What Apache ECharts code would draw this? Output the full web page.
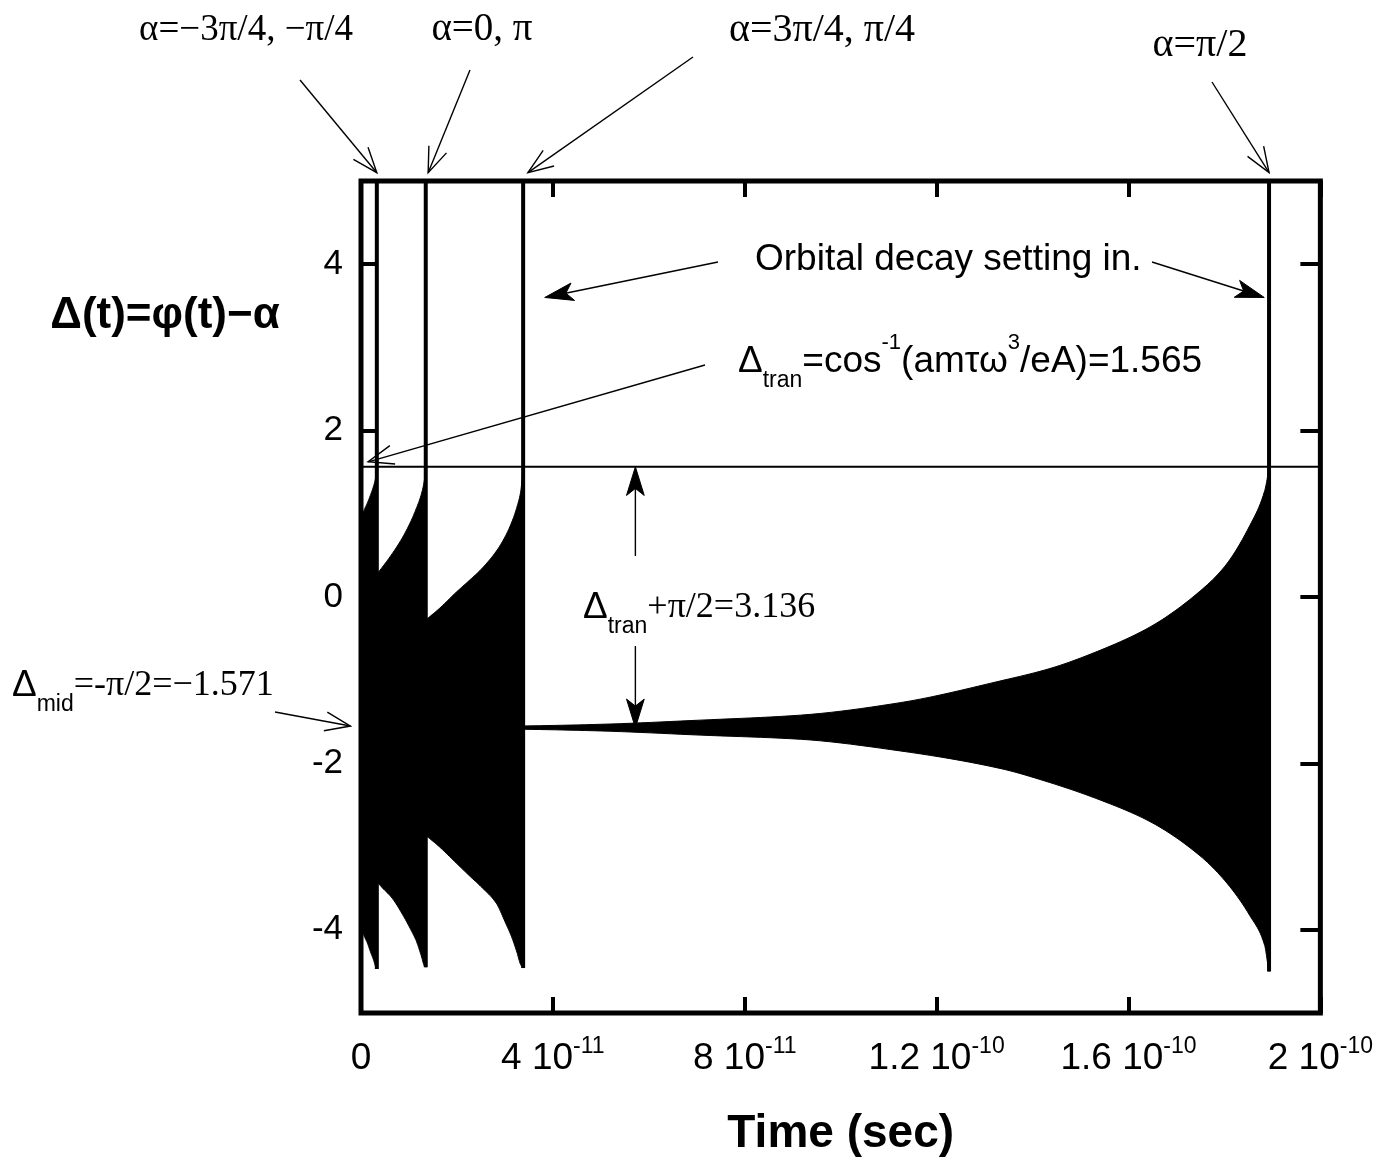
<!DOCTYPE html>
<html>
<head>
<meta charset="utf-8">
<script src="https://cdn.jsdelivr.net/npm/echarts@6/dist/echarts.min.js"></script>
<style>
  html, body { margin: 0; padding: 0; background: #fff; }
  #chart { width: 1376px; height: 1162px; }
</style>
</head>
<body>
<div id="chart"></div>
<script>
// ---- data -------------------------------------------------------------
// time values are given in units of 1e-11 s; Δ in radians
const T_UNIT = 1e-11;

// α = −3π/4, −π/4
const tA  = [0, 0.07, 0.14, 0.20, 0.26, 0.31, 0.33];
const upA = [0.95, 1.05, 1.14, 1.23, 1.33, 1.45, 1.565];
const loA = [-3.98, -4.08, -4.17, -4.27, -4.36, -4.45, -4.47];

// α = 0, π
const tB  = [0, 0.20, 0.42, 0.65, 0.85, 1.04, 1.15, 1.25, 1.32, 1.35];
const upB = [0.02, 0.18, 0.34, 0.52, 0.70, 0.91, 1.06, 1.22, 1.40, 1.565];
const loB = [-3.16, -3.32, -3.48, -3.62, -3.80, -4.00, -4.13, -4.30, -4.43, -4.45];

// α = 3π/4, π/4
const tC  = [0, 0.70, 1.38, 1.63, 1.99, 2.26, 2.50, 2.82, 3.00, 3.15, 3.25, 3.33, 3.38];
const upC = [-0.78, -0.55, -0.26, -0.14, 0.06, 0.20, 0.33, 0.55, 0.72, 0.91, 1.08, 1.27, 1.565];
const loC = [-2.36, -2.60, -2.88, -3.00, -3.20, -3.35, -3.48, -3.68, -3.90, -4.10, -4.27, -4.42, -4.46];

// α = π/2
const tD  = [0, 3.40, 5.00, 7.07, 9.16, 11.24, 13.32, 14.36, 15.41, 16.45, 17.49, 18.01, 18.53, 18.84, 18.90, 18.93];
const upD = [-1.571, -1.55, -1.53, -1.48, -1.42, -1.27, -1.01, -0.86, -0.64, -0.36, 0.07, 0.37, 0.86, 1.28, 1.45, 1.565];
const loD = [-1.571, -1.59, -1.61, -1.66, -1.71, -1.85, -2.06, -2.23, -2.44, -2.70, -3.11, -3.41, -3.83, -4.19, -4.40, -4.50];

const dTran = 1.565;   // Δ_tran
const dMid  = -1.571;  // Δ_mid

const xTickValues = [0, 4, 8, 12, 16, 20];
const xTickMant   = ['0', '4', '8', '1.2', '1.6', '2'];
const xTickExp    = ['', '-11', '-11', '-10', '-10', '-10'];
const yTickValues = [-4, -2, 0, 2, 4];
const yTickLabels = ['-4', '-2', '0', '2', '4'];

// ---- chart ------------------------------------------------------------
const SANS = 'Liberation Sans, Arial, Helvetica, sans-serif';
const SERIF = 'Liberation Serif, Times New Roman, serif';

const curves = [
  { t: tA, up: upA, lo: loA },
  { t: tB, up: upB, lo: loB },
  { t: tC, up: upC, lo: loC },
  { t: tD, up: upD, lo: loD }
];

// monotone cubic through pixel points (x increasing), sampled for drawing
function smoothPixels(p) {
  const n = p.length;
  if (n < 3) return p.slice();
  const d = [], m = [];
  for (let i = 0; i < n - 1; i++) d.push((p[i + 1][1] - p[i][1]) / (p[i + 1][0] - p[i][0]));
  m.push(d[0]);
  for (let i = 1; i < n - 1; i++) {
    if (d[i - 1] * d[i] <= 0) m.push(0);
    else {
      const h0 = p[i][0] - p[i - 1][0], h1 = p[i + 1][0] - p[i][0];
      const w1 = 2 * h1 + h0, w2 = h1 + 2 * h0;
      m.push((w1 + w2) / (w1 / d[i - 1] + w2 / d[i]));
    }
  }
  m.push(d[n - 2]);
  const out = [p[0]];
  const STEPS = 10;
  for (let i = 0; i < n - 1; i++) {
    const x0 = p[i][0], y0 = p[i][1], x1 = p[i + 1][0], y1 = p[i + 1][1];
    const h = x1 - x0;
    for (let s = 1; s <= STEPS; s++) {
      const u = s / STEPS;
      const h00 = 2 * u * u * u - 3 * u * u + 1, h10 = u * u * u - 2 * u * u + u;
      const h01 = -2 * u * u * u + 3 * u * u, h11 = u * u * u - u * u;
      out.push([x0 + h * u, h00 * y0 + h10 * h * m[i] + h01 * y1 + h11 * h * m[i + 1]]);
    }
  }
  return out;
}

function bandSeries(c) {
  const pts = c.t.map((t, i) => [t * T_UNIT, c.up[i], c.lo[i]]);
  return {
    type: 'custom',
    silent: true,
    clip: true,
    data: pts,
    encode: { x: 0, y: [1, 2] },
    renderItem: function (params, api) {
      if (params.dataIndex !== 0) return null;
      const upper = smoothPixels(pts.map(q => api.coord([q[0], q[1]])));
      const lower = smoothPixels(pts.map(q => api.coord([q[0], q[2]])));
      const poly = upper.concat(lower.reverse());
      return {
        type: 'polygon',
        shape: { points: poly },
        style: { fill: '#000', stroke: '#000', lineWidth: 1 }
      };
    }
  };
}

function escapeLine(c) {
  const n = c.t.length - 1;
  const t = c.t[n] * T_UNIT;
  return {
    type: 'line',
    silent: true,
    symbol: 'none',
    data: [[t, c.lo[n]], [t, 5]],
    lineStyle: { color: '#000', width: 4 }
  };
}

const series = [];
curves.forEach(c => series.push(bandSeries(c)));
curves.forEach(c => series.push(escapeLine(c)));
series.push({
  type: 'line',
  silent: true,
  symbol: 'none',
  data: [[0, dTran], [20 * T_UNIT, dTran]],
  lineStyle: { color: '#000', width: 2 }
});

const xCustom = xTickValues.map(v => v * T_UNIT);
function xLabel(value) {
  let k = 0;
  for (let i = 0; i < xCustom.length; i++) {
    if (Math.abs(xCustom[i] - value) < Math.abs(xCustom[k] - value)) k = i;
  }
  if (!xTickExp[k]) return '{m|' + xTickMant[k] + '}';
  return '{m|' + xTickMant[k] + ' 10}{e|' + xTickExp[k] + '}';
}
function yLabel(value) {
  const k = yTickValues.indexOf(Math.round(value));
  return k >= 0 ? yTickLabels[k] : '';
}

const tickStyle = { color: '#000', width: 4 };
const noLine = { show: false, onZero: false };

const option = {
  animation: false,
  backgroundColor: '#fff',
  grid: {
    left: 361, top: 181, width: 961, height: 832,
    show: true, borderColor: '#000', borderWidth: 5, backgroundColor: 'transparent'
  },
  xAxis: [
    {
      type: 'value', min: 0, max: 20 * T_UNIT, position: 'bottom',
      axisLine: noLine,
      splitLine: { show: false },
      axisTick: { show: true, inside: true, length: 16, lineStyle: tickStyle, customValues: xCustom },
      axisLabel: {
        show: true, margin: 22, customValues: xCustom, formatter: xLabel,
        rich: {
          m: { fontFamily: SANS, fontSize: 37, color: '#000', lineHeight: 48 },
          e: { fontFamily: SANS, fontSize: 23, color: '#000', lineHeight: 26, verticalAlign: 'top' }
        }
      },
      name: 'Time (sec)', nameLocation: 'middle', nameGap: 98,
      nameTextStyle: { fontFamily: SANS, fontWeight: 'bold', fontSize: 46, color: '#000' }
    },
    {
      type: 'value', min: 0, max: 20 * T_UNIT, position: 'top',
      axisLine: noLine,
      splitLine: { show: false },
      axisTick: { show: true, inside: true, length: 16, lineStyle: tickStyle, customValues: xCustom },
      axisLabel: { show: false }
    }
  ],
  yAxis: [
    {
      type: 'value', min: -5, max: 5, position: 'left',
      axisLine: noLine,
      splitLine: { show: false },
      axisTick: { show: true, inside: true, length: 16, lineStyle: tickStyle, customValues: yTickValues },
      axisLabel: {
        show: true, margin: 18, customValues: yTickValues, formatter: yLabel,
        fontFamily: SANS, fontSize: 35, color: '#000'
      }
    },
    {
      type: 'value', min: -5, max: 5, position: 'right',
      axisLine: noLine,
      splitLine: { show: false },
      axisTick: { show: true, inside: true, length: 20, lineStyle: tickStyle, customValues: yTickValues },
      axisLabel: { show: false }
    }
  ],
  series: series
};

const chart = echarts.init(document.getElementById('chart'), null, { renderer: 'canvas' });
chart.setOption(option);

// ---- annotations ------------------------------------------------------
const endOf = c => c.t[c.t.length - 1];

// arrow tails are page positions, arrow heads are in (time [1e-11 s], Δ) units
const arrowDefs = [
  { tail: [300, 80],   head: [endOf(curves[0]), 5.1],        kind: 'open' },
  { tail: [470, 70],   head: [endOf(curves[1]) + 0.05, 5.1], kind: 'open' },
  { tail: [693, 57],   head: [endOf(curves[2]) + 0.1, 5.1],  kind: 'open' },
  { tail: [1212, 82],  head: [endOf(curves[3]), 5.1],        kind: 'open' },
  { tail: [718, 262],  head: [endOf(curves[2]) + 0.45, 3.6], kind: 'fill' },
  { tail: [1152, 262], head: [endOf(curves[3]) - 0.1, 3.6],  kind: 'fill' },
  { tail: [705, 365],  head: [0.15, dTran + 0.06],           kind: 'open' },
  { tail: [null, 556], head: [5.72, dTran],                  kind: 'fill' },
  { tail: [null, 646], head: [5.72, dMid],                   kind: 'fill' },
  { tail: [275, 712],  head: [-0.22, dMid + 0.02],           kind: 'open' }
];

function toPx(p) {
  return chart.convertToPixel({ xAxisIndex: 0, yAxisIndex: 0 }, [p[0] * T_UNIT, p[1]]);
}

function arrowGraphics(def) {
  const h = toPx(def.head);
  const t = [def.tail[0] === null ? h[0] : def.tail[0], def.tail[1]];
  const ang = Math.atan2(h[1] - t[1], h[0] - t[0]);
  const els = [];
  const isFill = def.kind === 'fill';
  const L = isFill ? 30 : 27;
  const a = isFill ? 0.30 : 0.36;
  const p1 = [h[0] - L * Math.cos(ang - a), h[1] - L * Math.sin(ang - a)];
  const p2 = [h[0] - L * Math.cos(ang + a), h[1] - L * Math.sin(ang + a)];
  const inset = isFill ? 10 : 0;
  els.push({
    type: 'line', silent: true,
    shape: { x1: t[0], y1: t[1], x2: h[0] - inset * Math.cos(ang), y2: h[1] - inset * Math.sin(ang) },
    style: { stroke: '#000', lineWidth: 1.4 }
  });
  if (isFill) {
    const back = [h[0] - 0.72 * L * Math.cos(ang), h[1] - 0.72 * L * Math.sin(ang)];
    els.push({
      type: 'polygon', silent: true,
      shape: { points: [p1, h, p2, back] },
      style: { fill: '#000', stroke: '#000', lineWidth: 1 }
    });
  } else {
    els.push({
      type: 'polyline', silent: true,
      shape: { points: [p1, h, p2] },
      style: { stroke: '#000', lineWidth: 1.4, fill: null }
    });
  }
  return els;
}

const rich = {
  s:   { fontFamily: SANS,  fontSize: 37, color: '#000', lineHeight: 60 },
  r:   { fontFamily: SERIF, fontSize: 36, color: '#000', lineHeight: 60 },
  sup: { fontFamily: SANS,  fontSize: 22, color: '#000', lineHeight: 30, verticalAlign: 'top' },
  sub: { fontFamily: SANS,  fontSize: 23, color: '#000', lineHeight: 26, verticalAlign: 'bottom' }
};

function label(x, y, text, align) {
  return {
    type: 'text', silent: true, x: x, y: y,
    style: {
      text: text, rich: rich,
      align: align, textAlign: align,
      verticalAlign: 'middle', textVerticalAlign: 'middle'
    }
  };
}

function plain(x, y, text, font, align) {
  return {
    type: 'text', silent: true, x: x, y: y,
    style: {
      text: text, font: font, fill: '#000',
      align: align, textAlign: align,
      verticalAlign: 'middle', textVerticalAlign: 'middle'
    }
  };
}

const graphics = [];
arrowDefs.forEach(d => arrowGraphics(d).forEach(e => graphics.push(e)));

graphics.push(plain(246, 30, 'α=−3π/4, −π/4', '37px ' + SERIF, 'center'));
graphics.push(plain(482, 30, 'α=0, π', '39px ' + SERIF, 'center'));
graphics.push(plain(822, 30, 'α=3π/4, π/4', '40px ' + SERIF, 'center'));
graphics.push(plain(1200, 45, 'α=π/2', '40px ' + SERIF, 'center'));

graphics.push(plain(165, 316, 'Δ(t)=φ(t)−α', 'bold 44px ' + SANS, 'center'));
graphics.push(plain(755, 260, 'Orbital decay setting in.', '37px ' + SANS, 'left'));

graphics.push(label(738, 362,
  '{s|Δ}{sub|tran}{s|=cos}{sup|-1}{s|(amτω}{sup|3}{s|/eA)=1.565}', 'left'));
graphics.push(label(583, 608, '{s|Δ}{sub|tran}{r|+π/2=3.136}', 'left'));
graphics.push(label(12, 686, '{s|Δ}{sub|mid}{r|=-π/2=−1.571}', 'left'));

chart.setOption({ graphic: graphics });
</script>
</body>
</html>
